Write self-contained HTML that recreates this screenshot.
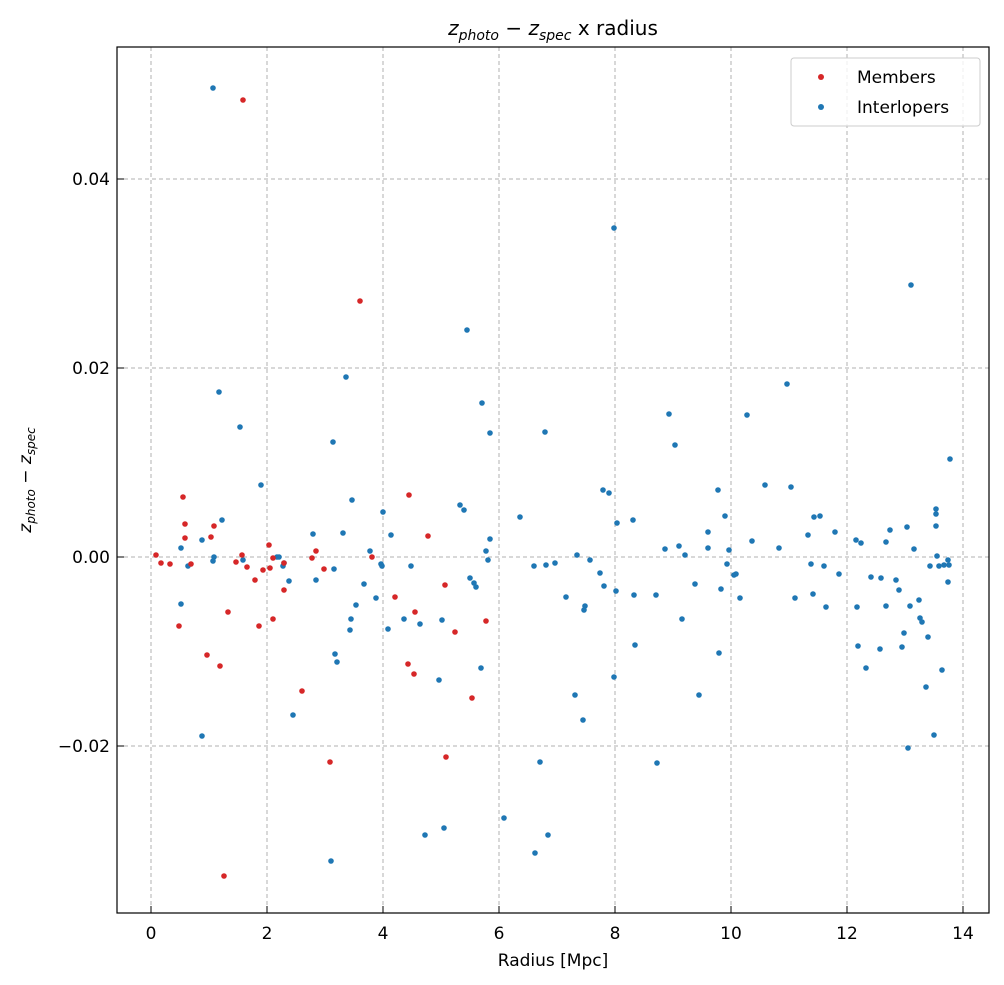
<!DOCTYPE html>
<html><head><meta charset="utf-8"><style>
html,body{margin:0;padding:0;background:#fff;}
svg{display:block;font-family:"DejaVu Sans","Liberation Sans",sans-serif;}
</style></head><body>
<svg width="1004" height="985" viewBox="0 0 1004 985" xmlns="http://www.w3.org/2000/svg">
<rect width="1004" height="985" fill="#fff"/>
<g stroke="#b0b0b0" stroke-width="1" stroke-dasharray="4,3">
<line x1="151" y1="47" x2="151" y2="913"/><line x1="267" y1="47" x2="267" y2="913"/><line x1="383" y1="47" x2="383" y2="913"/><line x1="499" y1="47" x2="499" y2="913"/><line x1="615" y1="47" x2="615" y2="913"/><line x1="731" y1="47" x2="731" y2="913"/><line x1="847" y1="47" x2="847" y2="913"/><line x1="963" y1="47" x2="963" y2="913"/>
<line x1="117" y1="179" x2="989" y2="179"/><line x1="117" y1="368" x2="989" y2="368"/><line x1="117" y1="557" x2="989" y2="557"/><line x1="117" y1="746" x2="989" y2="746"/>
</g>
<g fill="#1f77b4">
<circle cx="213" cy="88" r="2.8"/><circle cx="181" cy="548" r="2.8"/><circle cx="181" cy="604" r="2.8"/><circle cx="188" cy="566" r="2.8"/><circle cx="202" cy="540" r="2.8"/><circle cx="202" cy="736" r="2.8"/><circle cx="214" cy="557" r="2.8"/><circle cx="213" cy="561" r="2.8"/><circle cx="219" cy="392" r="2.8"/><circle cx="222" cy="520" r="2.8"/><circle cx="240" cy="427" r="2.8"/><circle cx="243" cy="560" r="2.8"/><circle cx="261" cy="485" r="2.8"/><circle cx="277" cy="557" r="2.8"/><circle cx="279" cy="557" r="2.8"/><circle cx="283" cy="566" r="2.8"/><circle cx="284" cy="563" r="2.8"/><circle cx="289" cy="581" r="2.8"/><circle cx="293" cy="715" r="2.8"/><circle cx="313" cy="534" r="2.8"/><circle cx="316" cy="580" r="2.8"/><circle cx="333" cy="442" r="2.8"/><circle cx="334" cy="569" r="2.8"/><circle cx="335" cy="654" r="2.8"/><circle cx="337" cy="662" r="2.8"/><circle cx="331" cy="861" r="2.8"/><circle cx="343" cy="533" r="2.8"/><circle cx="346" cy="377" r="2.8"/><circle cx="350" cy="630" r="2.8"/><circle cx="351" cy="619" r="2.8"/><circle cx="352" cy="500" r="2.8"/><circle cx="356" cy="605" r="2.8"/><circle cx="364" cy="584" r="2.8"/><circle cx="370" cy="551" r="2.8"/><circle cx="376" cy="598" r="2.8"/><circle cx="381" cy="564" r="2.8"/><circle cx="382" cy="566" r="2.8"/><circle cx="383" cy="512" r="2.8"/><circle cx="388" cy="629" r="2.8"/><circle cx="391" cy="535" r="2.8"/><circle cx="404" cy="619" r="2.8"/><circle cx="411" cy="566" r="2.8"/><circle cx="420" cy="624" r="2.8"/><circle cx="425" cy="835" r="2.8"/><circle cx="439" cy="680" r="2.8"/><circle cx="442" cy="620" r="2.8"/><circle cx="444" cy="828" r="2.8"/><circle cx="460" cy="505" r="2.8"/><circle cx="464" cy="510" r="2.8"/><circle cx="467" cy="330" r="2.8"/><circle cx="470" cy="578" r="2.8"/><circle cx="474" cy="583" r="2.8"/><circle cx="476" cy="587" r="2.8"/><circle cx="481" cy="668" r="2.8"/><circle cx="482" cy="403" r="2.8"/><circle cx="486" cy="551" r="2.8"/><circle cx="488" cy="560" r="2.8"/><circle cx="490" cy="433" r="2.8"/><circle cx="490" cy="539" r="2.8"/><circle cx="504" cy="818" r="2.8"/><circle cx="520" cy="517" r="2.8"/><circle cx="534" cy="566" r="2.8"/><circle cx="535" cy="853" r="2.8"/><circle cx="540" cy="762" r="2.8"/><circle cx="545" cy="432" r="2.8"/><circle cx="546" cy="565" r="2.8"/><circle cx="548" cy="835" r="2.8"/><circle cx="555" cy="563" r="2.8"/><circle cx="566" cy="597" r="2.8"/><circle cx="575" cy="695" r="2.8"/><circle cx="577" cy="555" r="2.8"/><circle cx="583" cy="720" r="2.8"/><circle cx="585" cy="606" r="2.8"/><circle cx="584" cy="610" r="2.8"/><circle cx="590" cy="560" r="2.8"/><circle cx="600" cy="573" r="2.8"/><circle cx="603" cy="490" r="2.8"/><circle cx="604" cy="586" r="2.8"/><circle cx="609" cy="493" r="2.8"/><circle cx="614" cy="228" r="2.8"/><circle cx="614" cy="677" r="2.8"/><circle cx="617" cy="523" r="2.8"/><circle cx="616" cy="591" r="2.8"/><circle cx="633" cy="520" r="2.8"/><circle cx="634" cy="595" r="2.8"/><circle cx="635" cy="645" r="2.8"/><circle cx="656" cy="595" r="2.8"/><circle cx="657" cy="763" r="2.8"/><circle cx="665" cy="549" r="2.8"/><circle cx="669" cy="414" r="2.8"/><circle cx="675" cy="445" r="2.8"/><circle cx="679" cy="546" r="2.8"/><circle cx="682" cy="619" r="2.8"/><circle cx="685" cy="555" r="2.8"/><circle cx="695" cy="584" r="2.8"/><circle cx="699" cy="695" r="2.8"/><circle cx="708" cy="548" r="2.8"/><circle cx="708" cy="532" r="2.8"/><circle cx="718" cy="490" r="2.8"/><circle cx="719" cy="653" r="2.8"/><circle cx="721" cy="589" r="2.8"/><circle cx="725" cy="516" r="2.8"/><circle cx="727" cy="564" r="2.8"/><circle cx="729" cy="550" r="2.8"/><circle cx="734" cy="575" r="2.8"/><circle cx="736" cy="574" r="2.8"/><circle cx="740" cy="598" r="2.8"/><circle cx="747" cy="415" r="2.8"/><circle cx="752" cy="541" r="2.8"/><circle cx="765" cy="485" r="2.8"/><circle cx="779" cy="548" r="2.8"/><circle cx="787" cy="384" r="2.8"/><circle cx="791" cy="487" r="2.8"/><circle cx="795" cy="598" r="2.8"/><circle cx="808" cy="535" r="2.8"/><circle cx="811" cy="564" r="2.8"/><circle cx="813" cy="594" r="2.8"/><circle cx="814" cy="517" r="2.8"/><circle cx="820" cy="516" r="2.8"/><circle cx="824" cy="566" r="2.8"/><circle cx="826" cy="607" r="2.8"/><circle cx="835" cy="532" r="2.8"/><circle cx="839" cy="574" r="2.8"/><circle cx="856" cy="540" r="2.8"/><circle cx="857" cy="607" r="2.8"/><circle cx="858" cy="646" r="2.8"/><circle cx="861" cy="543" r="2.8"/><circle cx="866" cy="668" r="2.8"/><circle cx="871" cy="577" r="2.8"/><circle cx="880" cy="649" r="2.8"/><circle cx="881" cy="578" r="2.8"/><circle cx="886" cy="542" r="2.8"/><circle cx="886" cy="606" r="2.8"/><circle cx="890" cy="530" r="2.8"/><circle cx="896" cy="580" r="2.8"/><circle cx="899" cy="590" r="2.8"/><circle cx="902" cy="647" r="2.8"/><circle cx="904" cy="633" r="2.8"/><circle cx="907" cy="527" r="2.8"/><circle cx="908" cy="748" r="2.8"/><circle cx="911" cy="285" r="2.8"/><circle cx="910" cy="606" r="2.8"/><circle cx="914" cy="549" r="2.8"/><circle cx="919" cy="600" r="2.8"/><circle cx="920" cy="618" r="2.8"/><circle cx="922" cy="622" r="2.8"/><circle cx="926" cy="687" r="2.8"/><circle cx="928" cy="637" r="2.8"/><circle cx="930" cy="566" r="2.8"/><circle cx="934" cy="735" r="2.8"/><circle cx="936" cy="509" r="2.8"/><circle cx="936" cy="514" r="2.8"/><circle cx="936" cy="526" r="2.8"/><circle cx="937" cy="556" r="2.8"/><circle cx="939" cy="566" r="2.8"/><circle cx="942" cy="670" r="2.8"/><circle cx="944" cy="565" r="2.8"/><circle cx="948" cy="560" r="2.8"/><circle cx="948" cy="582" r="2.8"/><circle cx="949" cy="565" r="2.8"/><circle cx="950" cy="459" r="2.8"/>
</g>
<g fill="#d62728">
<circle cx="156" cy="555" r="2.8"/><circle cx="161" cy="563" r="2.8"/><circle cx="170" cy="564" r="2.8"/><circle cx="179" cy="626" r="2.8"/><circle cx="183" cy="497" r="2.8"/><circle cx="185" cy="524" r="2.8"/><circle cx="185" cy="538" r="2.8"/><circle cx="191" cy="564" r="2.8"/><circle cx="207" cy="655" r="2.8"/><circle cx="211" cy="537" r="2.8"/><circle cx="214" cy="526" r="2.8"/><circle cx="220" cy="666" r="2.8"/><circle cx="224" cy="876" r="2.8"/><circle cx="228" cy="612" r="2.8"/><circle cx="236" cy="562" r="2.8"/><circle cx="242" cy="555" r="2.8"/><circle cx="247" cy="567" r="2.8"/><circle cx="243" cy="100" r="2.8"/><circle cx="255" cy="580" r="2.8"/><circle cx="259" cy="626" r="2.8"/><circle cx="263" cy="570" r="2.8"/><circle cx="269" cy="545" r="2.8"/><circle cx="270" cy="568" r="2.8"/><circle cx="273" cy="619" r="2.8"/><circle cx="273" cy="558" r="2.8"/><circle cx="284" cy="563" r="2.8"/><circle cx="284" cy="590" r="2.8"/><circle cx="302" cy="691" r="2.8"/><circle cx="312" cy="558" r="2.8"/><circle cx="316" cy="551" r="2.8"/><circle cx="324" cy="569" r="2.8"/><circle cx="330" cy="762" r="2.8"/><circle cx="360" cy="301" r="2.8"/><circle cx="372" cy="557" r="2.8"/><circle cx="395" cy="597" r="2.8"/><circle cx="409" cy="495" r="2.8"/><circle cx="408" cy="664" r="2.8"/><circle cx="414" cy="674" r="2.8"/><circle cx="415" cy="612" r="2.8"/><circle cx="428" cy="536" r="2.8"/><circle cx="445" cy="585" r="2.8"/><circle cx="446" cy="757" r="2.8"/><circle cx="455" cy="632" r="2.8"/><circle cx="472" cy="698" r="2.8"/><circle cx="486" cy="621" r="2.8"/>
</g>
<rect x="117" y="47" width="872" height="866" fill="none" stroke="#000" stroke-width="1.2"/>
<g stroke="#000" stroke-width="1">
<line x1="151" y1="913" x2="151" y2="906"/><line x1="267" y1="913" x2="267" y2="906"/><line x1="383" y1="913" x2="383" y2="906"/><line x1="499" y1="913" x2="499" y2="906"/><line x1="615" y1="913" x2="615" y2="906"/><line x1="731" y1="913" x2="731" y2="906"/><line x1="847" y1="913" x2="847" y2="906"/><line x1="963" y1="913" x2="963" y2="906"/>
<line x1="117" y1="179" x2="124" y2="179"/><line x1="117" y1="368" x2="124" y2="368"/><line x1="117" y1="557" x2="124" y2="557"/><line x1="117" y1="746" x2="124" y2="746"/>
</g>
<g font-size="17" text-anchor="middle" fill="#000">
<text x="151" y="939">0</text><text x="267" y="939">2</text><text x="383" y="939">4</text><text x="499" y="939">6</text><text x="615" y="939">8</text><text x="731" y="939">10</text><text x="847" y="939">12</text><text x="963" y="939">14</text>
<text x="553" y="966" font-size="17">Radius [Mpc]</text>
</g>
<g font-size="17" text-anchor="end" fill="#000">
<text x="110" y="185">0.04</text><text x="110" y="374">0.02</text><text x="110" y="563">0.00</text><text x="110" y="752">−0.02</text>
</g>
<text x="553" y="35" font-size="20" text-anchor="middle"><tspan font-style="italic">z</tspan><tspan font-size="14" font-style="italic" dy="5">photo</tspan><tspan dy="-5"> − </tspan><tspan font-style="italic">z</tspan><tspan font-size="14" font-style="italic" dy="5">spec</tspan><tspan dy="-5"> x radius</tspan></text>
<text transform="translate(31,480) rotate(-90)" font-size="17" text-anchor="middle"><tspan font-style="italic">z</tspan><tspan font-size="12" font-style="italic" dy="4">photo</tspan><tspan dy="-4"> − </tspan><tspan font-style="italic">z</tspan><tspan font-size="12" font-style="italic" dy="4">spec</tspan></text>
<rect x="791" y="58" width="189" height="68" rx="3" fill="#fff" fill-opacity="0.8" stroke="#ccc"/>
<circle cx="821" cy="77" r="3" fill="#d62728"/><circle cx="821" cy="107" r="3" fill="#1f77b4"/>
<text x="857" y="83" font-size="17">Members</text><text x="857" y="113" font-size="17">Interlopers</text>
</svg>
</body></html>
